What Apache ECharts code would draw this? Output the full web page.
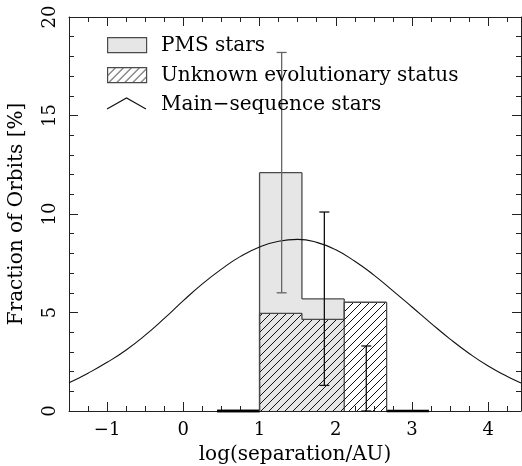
<!DOCTYPE html>
<html><head><meta charset="utf-8">
<script src="https://cdn.jsdelivr.net/npm/echarts@6/dist/echarts.min.js"></script>
<style>html,body{margin:0;padding:0;background:#fff}#c{width:522px;height:466px}</style>
</head><body><div id="c"></div>
<script>
// ---- data ----
const binEdges = [0.444, 1.0, 1.556, 2.111, 2.667, 3.222];
const pmsFraction = [0, 12.1, 5.69];
const unknownFraction = [0, 4.96, 4.65, 5.52, 0];
const errX = [1.29, 1.85, 2.40];
const errLow = [6.0, 1.3, 0];
const errHigh = [18.2, 10.1, 3.3];
const msX = [-1.5, -1.25, -1, -0.75, -0.5, -0.25, 0, 0.25, 0.5, 0.75, 1, 1.25, 1.5, 1.75, 2, 2.25, 2.5, 2.75, 3, 3.25, 3.5, 3.75, 4, 4.25, 4.43];
const msY = [1.43, 1.92, 2.47, 3.1, 3.85, 4.7, 5.6, 6.45, 7.2, 7.85, 8.33, 8.62, 8.71, 8.56, 8.18, 7.6, 6.9, 6.1, 5.28, 4.45, 3.65, 2.92, 2.28, 1.75, 1.42];
const legendLabels = ['PMS stars', 'Unknown evolutionary status', 'Main\u2212sequence stars'];
const xTitle = 'log(separation/AU)';
const yTitle = 'Fraction of Orbits [%]';

const FONT = 'DejaVu Serif';
const FS_TICK = 18;
const FS_LEG = 20;
const FS_NAME = 20;
const GRAY = '#e6e6e6';
const EDGE = '#4a4a4a';

function makeHatch() {
  const c = document.createElement('canvas');
  c.width = 8; c.height = 8;
  const g = c.getContext('2d');
  g.strokeStyle = '#111'; g.lineWidth = 1;
  g.beginPath();
  for (const k of [0, 8, 16]) { g.moveTo(k + 1, -1); g.lineTo(-1, k + 1); }
  g.stroke();
  return c;
}
const hatchFill = { image: makeHatch(), repeat: 'repeat' };

function histData(heights) {
  return heights.map((h, i) => [binEdges[i], binEdges[i + 1], h]);
}
function histRender(heights, fill) {
  return function (params, api) {
    const i = params.dataIndex;
    const lo = api.value(0), hi = api.value(1), h = api.value(2);
    const prev = i > 0 ? heights[i - 1] : 0;
    const p0 = api.coord([lo, 0]);
    const p1 = api.coord([hi, h]);
    const pPrev = api.coord([lo, prev]);
    const children = [];
    if (h > 0) {
      children.push({ type: 'rect', shape: { x: p0[0], y: p1[1], width: p1[0] - p0[0], height: p0[1] - p1[1] },
        style: { fill: fill, stroke: null } });
    }
    children.push({ type: 'line', shape: { x1: p0[0], y1: p1[1], x2: p1[0], y2: p1[1] },
      style: { stroke: h > 0 ? EDGE : '#000', lineWidth: h > 0 ? 1.3 : 2.4 } });
    if (prev !== h) {
      children.push({ type: 'line', shape: { x1: p0[0], y1: pPrev[1], x2: p0[0], y2: p1[1] },
        style: { stroke: EDGE, lineWidth: 1.3 } });
    }
    if (i === heights.length - 1 && h !== 0) {
      children.push({ type: 'line', shape: { x1: p1[0], y1: p1[1], x2: p1[0], y2: p0[1] },
        style: { stroke: EDGE, lineWidth: 1.3 } });
    }
    return { type: 'group', children };
  };
}

const errData = errX.map((x, i) => [x, errLow[i], errHigh[i]]);
const errColors = ['#666', '#111', '#111'];

const chart = echarts.init(document.getElementById('c'), null, { renderer: 'canvas' });

function axisBase(minorSplit) {
  return {
    axisLine: { show: true, onZero: false, lineStyle: { color: '#222', width: 1 } },
    axisTick: { show: true, inside: true, length: 9, lineStyle: { color: '#222' } },
    minorTick: { show: true, splitNumber: minorSplit, length: 5, lineStyle: { color: '#222' } },
    splitLine: { show: false },
    minorSplitLine: { show: false }
  };
}

const option = {
  animation: false,
  backgroundColor: '#fff',
  textStyle: { fontFamily: FONT },
  grid: { left: 69, right: 1, top: 17, bottom: 55, containLabel: false, outerBoundsMode: 'none' },
  xAxis: [
    Object.assign(axisBase(4), {
      type: 'value', position: 'bottom', min: -1.5, max: 4.43, splitNumber: 6,
      axisLabel: { color: '#000', fontFamily: FONT, fontSize: FS_TICK, margin: 10,
        formatter: v => Number.isInteger(v) ? String(v).replace('-', '\u2212') : '' },
      name: xTitle, nameLocation: 'middle', nameGap: 34,
      nameTextStyle: { color: '#000', fontFamily: FONT, fontSize: FS_NAME }
    }),
    Object.assign(axisBase(4), {
      type: 'value', position: 'top', min: -1.5, max: 4.43, splitNumber: 6,
      axisLabel: { show: false }
    })
  ],
  yAxis: [
    Object.assign(axisBase(5), {
      type: 'value', position: 'left', min: 0, max: 20, interval: 5,
      axisLabel: { color: '#000', fontFamily: FONT, fontSize: FS_TICK, rotate: 90, margin: 10 },
      name: yTitle, nameLocation: 'middle', nameGap: 42, nameRotate: 90,
      nameTextStyle: { color: '#000', fontFamily: FONT, fontSize: FS_NAME }
    }),
    Object.assign(axisBase(5), {
      type: 'value', position: 'right', min: 0, max: 20, interval: 5,
      axisLabel: { show: false }
    })
  ],
  series: [
    { type: 'custom', name: legendLabels[0], renderItem: histRender(pmsFraction, GRAY),
      data: histData(pmsFraction), encode: { x: [0, 1], y: 2 }, z: 2 },
    { type: 'custom', name: legendLabels[1], renderItem: histRender(unknownFraction, hatchFill),
      data: histData(unknownFraction), encode: { x: [0, 1], y: 2 }, z: 3 },
    { type: 'line', name: legendLabels[2], data: msX.map((x, i) => [x, msY[i]]),
      smooth: 0.5, showSymbol: false, symbol: 'none',
      lineStyle: { color: '#111', width: 1.1 }, z: 4 },
    { type: 'custom', name: 'errors', z: 5, data: errData, encode: { x: 0, y: [1, 2] },
      renderItem: function (params, api) {
        const x = api.value(0);
        const a = api.coord([x, api.value(1)]);
        const b = api.coord([x, api.value(2)]);
        const c = errColors[params.dataIndex];
        const w = 5;
        const st = { stroke: c, lineWidth: 1.3 };
        return { type: 'group', children: [
          { type: 'line', shape: { x1: a[0], y1: a[1], x2: b[0], y2: b[1] }, style: st },
          { type: 'line', shape: { x1: a[0] - w, y1: a[1], x2: a[0] + w, y2: a[1] }, style: st },
          { type: 'line', shape: { x1: b[0] - w, y1: b[1], x2: b[0] + w, y2: b[1] }, style: st }
        ] };
      } }
  ],
  graphic: [
    { type: 'rect', left: 107, top: 37, shape: { width: 39, height: 15 }, style: { fill: GRAY, stroke: EDGE, lineWidth: 1.2 }, z: 10 },
    { type: 'rect', left: 107, top: 67, shape: { width: 39, height: 15 }, style: { fill: hatchFill, stroke: EDGE, lineWidth: 1.2 }, z: 10 },
    { type: 'polyline', shape: { points: [[107, 109], [126.5, 98], [146, 109]] }, style: { fill: null, stroke: '#111', lineWidth: 1.1 }, z: 10 },
    { type: 'text', x: 161, y: 46, style: { text: legendLabels[0], font: FS_LEG + 'px "' + FONT + '"', fill: '#000', verticalAlign: 'middle' }, z: 10 },
    { type: 'text', x: 161, y: 76, style: { text: legendLabels[1], font: FS_LEG + 'px "' + FONT + '"', fill: '#000', verticalAlign: 'middle' }, z: 10 },
    { type: 'text', x: 161, y: 105, style: { text: legendLabels[2], font: FS_LEG + 'px "' + FONT + '"', fill: '#000', verticalAlign: 'middle' }, z: 10 }
  ]
};
chart.setOption(option);
</script>
</body></html>
